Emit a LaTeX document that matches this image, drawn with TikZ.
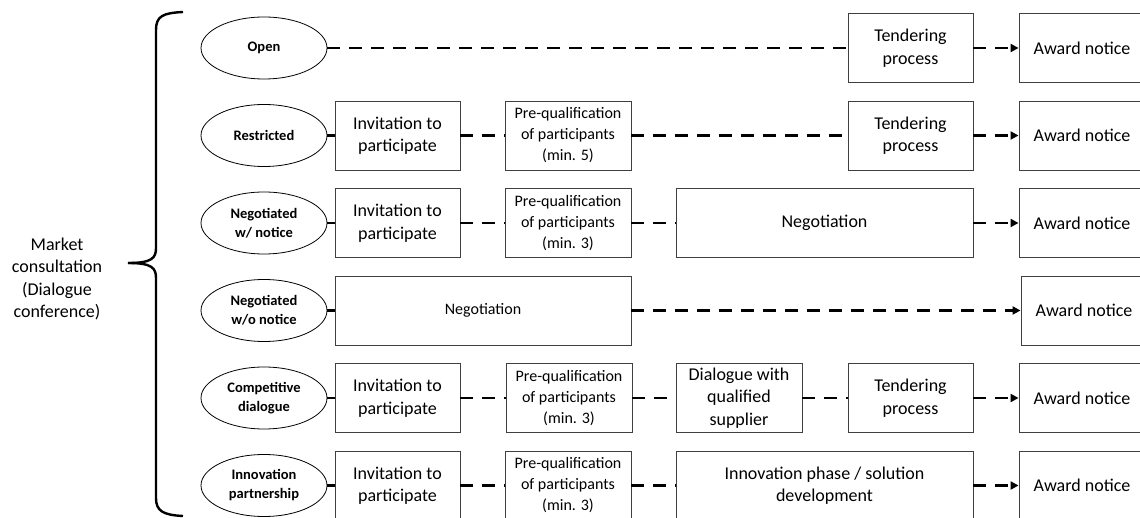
\documentclass[tikz,border=0pt]{standalone}
\usepackage{fontspec}
\setmainfont{Carlito}
\usetikzlibrary{shapes.geometric,arrows.meta}
\tikzset{
  stagebox/.style={draw=black!75, line width=0.9pt, rectangle, inner sep=0pt,
    minimum height=69pt, align=center, font=\fontsize{18}{22.5}\selectfont},
  smallbox/.style={stagebox, font=\fontsize{16}{21}\selectfont},
  proc/.style={draw=black, line width=0.8pt, ellipse, inner sep=0pt,
    minimum width=126pt, minimum height=62pt, align=center,
    font=\fontsize{14.5}{19}\bfseries\selectfont},
  conn/.style={line width=2.8pt, dash pattern=on 13pt off 9pt},
  arr/.style={conn, -{Triangle[length=8pt,width=8pt]}},
  bracestyle/.style={line width=2.4pt},
  lbl/.style={align=center, font=\fontsize{18}{22.5}\selectfont}
}
\begin{document}
\begin{tikzpicture}[x=1pt,y=-1pt]
\useasboundingbox (0,0) rectangle (1140,518);
\clip (0,0) rectangle (1140,518);

% brace and label
\node[lbl] (market) at (57,279) {Market\\consultation\\(Dialogue\\conference)};
\coordinate (btip) at (128,263);
\coordinate (btop) at (183,12);
\coordinate (bbot) at (183,516);
\draw[bracestyle] (btop) .. controls (163,13) and (156,16) .. (156,30) -- (156,248)
  .. controls (156,258) and (152,263) .. (btip);
\draw[bracestyle] (btip) .. controls (152,263) and (156,268) .. (156,278) -- (156,498)
  .. controls (156,511) and (163,515) .. (bbot);

% Row 1: Open
\node[proc] (e1) at (264,48) {Open};
\node[stagebox, minimum width=125pt] (t1) at (910.5,48) {Tendering\\process};
\node[stagebox, minimum width=126pt] (a1) at (1082,48) {Award notice};
\draw[conn] (e1) -- (t1);
\draw[arr] (t1) -- (a1);

% Row 2: Restricted
\node[proc] (e2) at (264,135.5) {Restricted};
\node[stagebox, minimum width=125pt] (i2) at (397.5,135.5) {Invitation to\\participate};
\node[smallbox, minimum width=126pt] (p2) at (568,135.5) {Pre-qualification\\of participants\\(min. 5)};
\node[stagebox, minimum width=125pt] (t2) at (910.5,135.5) {Tendering\\process};
\node[stagebox, minimum width=126pt] (a2) at (1082,135.5) {Award notice};
\draw[conn] (e2) -- (i2);
\draw[conn] (i2) -- (p2);
\draw[conn] (p2) -- (t2);
\draw[arr] (t2) -- (a2);

% Row 3: Negotiated w/ notice
\node[proc] (e3) at (264,223) {Negotiated\\w/ notice};
\node[stagebox, minimum width=125pt] (i3) at (397.5,223) {Invitation to\\participate};
\node[smallbox, minimum width=126pt] (p3) at (568,223) {Pre-qualification\\of participants\\(min. 3)};
\node[stagebox, minimum width=297pt] (n3) at (824.5,223) {Negotiation};
\node[stagebox, minimum width=126pt] (a3) at (1082,223) {Award notice};
\draw[conn] (e3) -- (i3);
\draw[conn] (i3) -- (p3);
\draw[conn] (p3) -- (n3);
\draw[arr] (n3) -- (a3);

% Row 4: Negotiated w/o notice
\node[proc] (e4) at (264,310.5) {Negotiated\\w/o notice};
\node[smallbox, minimum width=296pt] (n4) at (483,310.5) {Negotiation};
\node[stagebox, minimum width=126pt] (a4) at (1084,310.5) {Award notice};
\draw[conn] (e4) -- (n4);
\draw[arr] (n4) -- (a4);

% Row 5: Competitive dialogue
\node[proc] (e5) at (264,398) {Competitive\\dialogue};
\node[stagebox, minimum width=125pt] (i5) at (397.5,398) {Invitation to\\participate};
\node[smallbox, minimum width=126pt] (p5) at (569,398) {Pre-qualification\\of participants\\(min. 3)};
\node[stagebox, minimum width=126pt] (d5) at (739,398) {Dialogue with\\qualified\\supplier};
\node[stagebox, minimum width=125pt] (t5) at (910.5,398) {Tendering\\process};
\node[stagebox, minimum width=126pt] (a5) at (1082,398) {Award notice};
\draw[conn] (e5) -- (i5);
\draw[conn] (i5) -- (p5);
\draw[conn] (p5) -- (d5);
\draw[conn] (d5) -- (t5);
\draw[arr] (t5) -- (a5);

% Row 6: Innovation partnership
\node[proc] (e6) at (264,485.5) {Innovation\\partnership};
\node[stagebox, minimum width=125pt] (i6) at (397.5,485.5) {Invitation to\\participate};
\node[smallbox, minimum width=126pt] (p6) at (568,485.5) {Pre-qualification\\of participants\\(min. 3)};
\node[stagebox, minimum width=297pt] (v6) at (824.5,485.5) {Innovation phase / solution\\development};
\node[stagebox, minimum width=126pt] (a6) at (1082,485.5) {Award notice};
\draw[conn] (e6) -- (i6);
\draw[conn] (i6) -- (p6);
\draw[conn] (p6) -- (v6);
\draw[arr] (v6) -- (a6);
\end{tikzpicture}
\end{document}
